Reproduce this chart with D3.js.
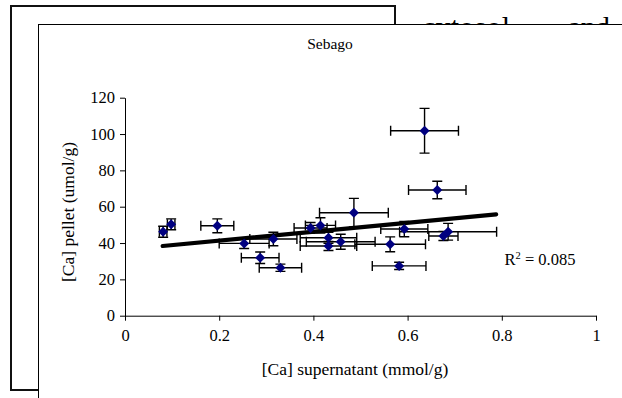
<!DOCTYPE html>
<html>
<head>
<meta charset="utf-8">
<script src="https://cdn.jsdelivr.net/npm/d3@7"></script>
<style>
    body { margin: 0; background: #fff; }
    svg text { font-family: "Liberation Serif", "Times New Roman", serif; fill: #000; }
</style>
</head>
<body>
<div id="the_chart"></div>
<script>
/* DATA */
const xVals = [0.081, 0.098, 0.196, 0.253, 0.287, 0.315, 0.330, 0.394, 0.415, 0.432,
               0.432, 0.458, 0.486, 0.563, 0.582, 0.593, 0.636, 0.663, 0.676, 0.686];
const yVals = [46.2, 50.3, 49.5, 39.8, 31.9, 42.2, 26.4, 48.3, 49.7, 42.9,
               38.4, 40.7, 56.7, 39.3, 27.4, 47.7, 101.8, 69.2, 43.9, 46.2];
const xErr  = [0.008, 0.008, 0.035, 0.053, 0.040, 0.050, 0.045, 0.035, 0.032, 0.060,
               0.060, 0.073, 0.073, 0.075, 0.057, 0.050, 0.072, 0.061, 0.031, 0.103];
const yErr  = [3.0, 3.0, 3.8, 2.8, 3.2, 3.7, 2.0, 3.0, 4.2, 3.0,
               2.5, 4.1, 7.9, 4.1, 2.0, 4.2, 12.3, 4.8, 2.5, 4.6];
const xTicks = [0, 0.2, 0.4, 0.6, 0.8, 1];
const yTicks = [0, 20, 40, 60, 80, 100, 120];
// linear trendline as shown, and the R² label
const trendSlope = 24.6, trendIntercept = 36.4, trendFrom = 0.080, trendTo = 0.788;
const rSquared = "0.085";

const chartTitle = "Sebago";
const xTitle = "[Ca] supernatant (mmol/g)";
const yTitle = "[Ca] pellet (umol/g)";
const backWords = ["cytosol", "and"];

var w = 622, h = 398;
var serif = "Liberation Serif, Times New Roman, serif";

var svg = d3.select("#the_chart")
    .append("svg")
    .attr("width", w)
    .attr("height", h);

/* page behind: an older frame and some body text */
svg.append("rect")
    .attr("x", 11).attr("y", 6)
    .attr("width", 384).attr("height", 384)
    .attr("fill", "#fff")
    .attr("stroke", "#111")
    .attr("stroke-width", 2);

svg.selectAll("text.back")
    .data(backWords)
    .enter().append("text")
    .attr("class", "back")
    .attr("x", (d, i) => i == 0 ? 422 : 568)
    .attr("y", 37)
    .attr("textLength", (d, i) => i == 0 ? 88 : 42)
    .style("font-size", "30px")
    .text(d => d);

/* the chart panel on top */
svg.append("rect")
    .attr("x", 38.5).attr("y", 24.5)
    .attr("width", 620).attr("height", 400)
    .attr("fill", "#fff")
    .attr("stroke", "#000")
    .attr("stroke-width", 1);

svg.append("text")
    .attr("x", 330).attr("y", 49)
    .attr("text-anchor", "middle")
    .style("font-size", "15.5px")
    .text(chartTitle);

var xscale = d3.scaleLinear().domain([0, 1]).range([125, 596]);
var yscale = d3.scaleLinear().domain([0, 120]).range([315.7, 97.7]);

var yaxis = d3.axisLeft(yscale)
    .tickValues(yTicks)
    .tickSize(5)
    .tickSizeOuter(0)
    .tickPadding(5)
    .tickFormat(d3.format("d"));
svg.append("g")
    .attr("class", "yaxis")
    .attr("transform", "translate(125,0)")
    .call(yaxis);

var xaxis = d3.axisBottom(xscale)
    .tickValues(xTicks)
    .tickSize(5)
    .tickSizeOuter(0)
    .tickPadding(9)
    .tickFormat(d => String(d));
svg.append("g")
    .attr("class", "xaxis")
    .attr("transform", "translate(0,315.7)")
    .call(xaxis);

// d3 puts sans-serif on the axis groups, switch them to the serif face
svg.selectAll(".xaxis, .yaxis")
    .attr("font-family", serif)
    .attr("font-size", 16.5);
svg.selectAll(".tick text").style("font-family", serif);
svg.selectAll(".domain, .tick line").attr("stroke", "#000");

// axis titles
svg.append("text")
    .attr("x", 355).attr("y", 375)
    .attr("text-anchor", "middle")
    .style("font-size", "17.5px")
    .text(xTitle);

svg.append("text")
    .attr("transform", "translate(74,212) rotate(-90)")
    .attr("text-anchor", "middle")
    .style("font-size", "17.5px")
    .text(yTitle);

/* error bars */
var pts = xVals.map((x, i) => ({ x: x, y: yVals[i], xe: xErr[i], ye: yErr[i] }));
var cap = 5;
var bars = svg.append("g")
    .attr("stroke", "#000")
    .attr("stroke-width", 1.4)
    .attr("fill", "none");

bars.selectAll("path.xbar")
    .data(pts)
    .enter().append("path")
    .attr("d", d => {
        var x0 = xscale(d.x - d.xe), x1 = xscale(d.x + d.xe), y = yscale(d.y);
        return `M${x0},${y}H${x1}M${x0},${y - cap}V${y + cap}M${x1},${y - cap}V${y + cap}`;
    });

bars.selectAll("path.ybar")
    .data(pts)
    .enter().append("path")
    .attr("d", d => {
        var y0 = yscale(d.y - d.ye), y1 = yscale(d.y + d.ye), x = xscale(d.x);
        return `M${x},${y0}V${y1}M${x - cap},${y0}H${x + cap}M${x - cap},${y1}H${x + cap}`;
    });

/* trendline */
svg.append("line")
    .attr("x1", xscale(trendFrom))
    .attr("y1", yscale(trendIntercept + trendSlope * trendFrom))
    .attr("x2", xscale(trendTo))
    .attr("y2", yscale(trendIntercept + trendSlope * trendTo))
    .attr("stroke", "#000")
    .attr("stroke-width", 4.2)
    .attr("stroke-linecap", "round");

/* markers */
svg.selectAll("path.pt")
    .data(pts)
    .enter().append("path")
    .attr("d", d3.symbol(d3.symbolSquare, 50))
    .attr("transform", d => `translate(${xscale(d.x)},${yscale(d.y)}) rotate(45)`)
    .attr("fill", "#000080");

/* R² label */
var r2 = svg.append("text")
    .attr("x", 540).attr("y", 265)
    .attr("text-anchor", "middle")
    .style("font-size", "16.5px");
r2.append("tspan").text("R");
r2.append("tspan").attr("dy", -6).style("font-size", "10.5px").text("2");
r2.append("tspan").attr("dy", 6).text(" = " + rSquared);
</script>
</body>
</html>
